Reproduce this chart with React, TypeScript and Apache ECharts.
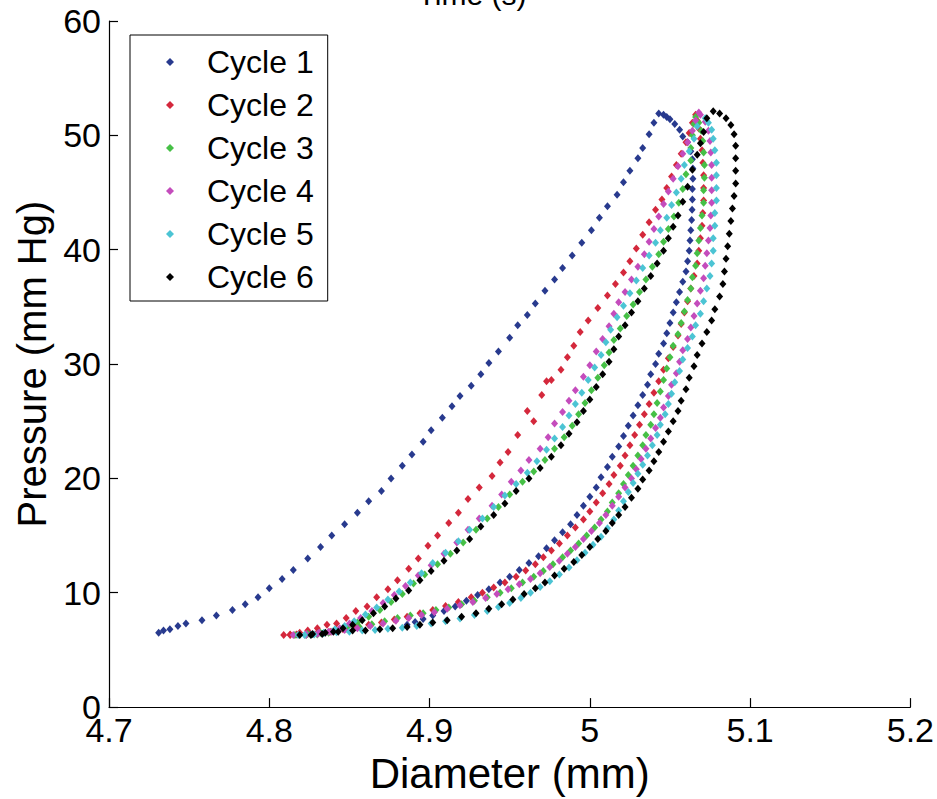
import React, { useEffect, useRef } from "react";
import * as echarts from "echarts";

const FONT = "'Liberation Sans', Arial, Helvetica, sans-serif";

const cycleNames = ["Cycle 1", "Cycle 2", "Cycle 3", "Cycle 4", "Cycle 5", "Cycle 6"];
const cycleColors = ["#283a8e", "#d4283c", "#46c046", "#c44cbc", "#4cc4d4", "#000000"];
const xTicks = [4.7, 4.8, 4.9, 5.0, 5.1, 5.2];
const yTicks = [0, 10, 20, 30, 40, 50, 60];

// [diameter (mm), pressure (mm Hg)]
const cycle1Up = [
  [4.731, 6.5], [4.734, 6.7], [4.738, 6.8], [4.743, 7.1], [4.748, 7.3], [4.758, 7.6], [4.767, 8.0],
  [4.777, 8.5], [4.785, 9.0], [4.793, 9.6], [4.8, 10.4], [4.808, 11.2], [4.815, 12.0], [4.824, 13.0],
  [4.832, 14.0], [4.839, 15.0], [4.847, 16.0], [4.855, 17.0], [4.862, 18.0], [4.87, 18.9], [4.876, 20.0],
  [4.883, 21.1], [4.889, 22.1], [4.896, 23.2], [4.901, 24.2], [4.908, 25.3], [4.914, 26.3], [4.919, 27.2],
  [4.926, 28.1], [4.932, 29.1], [4.937, 30.1], [4.943, 31.1], [4.95, 32.3], [4.955, 33.4], [4.961, 34.3],
  [4.966, 35.3], [4.972, 36.4], [4.978, 37.4], [4.983, 38.4], [4.989, 39.5], [4.995, 40.6], [5.001, 41.7],
  [5.006, 42.8], [5.011, 43.8], [5.017, 44.8], [5.021, 45.9], [5.025, 46.9], [5.03, 48.0], [5.033, 48.9],
  [5.037, 50.1], [5.04, 51.1], [5.043, 51.9],
];
const cycle1Down = [
  [5.046, 51.8], [5.048, 51.6], [5.05, 51.4], [5.053, 51.0], [5.056, 50.5], [5.058, 49.9], [5.061, 49.4],
  [5.063, 48.6], [5.064, 47.9], [5.0643, 47.1], [5.0643, 46.2], [5.064, 45.3], [5.064, 44.4], [5.0638, 43.5],
  [5.0635, 42.6], [5.063, 41.7], [5.0625, 40.8], [5.062, 39.9], [5.061, 39.0], [5.06, 38.1], [5.058, 37.2],
  [5.056, 36.3], [5.054, 35.4], [5.052, 34.5], [5.05, 33.6], [5.048, 32.7], [5.046, 31.8], [5.043, 30.9],
  [5.041, 30.0], [5.038, 29.1], [5.036, 28.2], [5.033, 27.3], [5.03, 26.4], [5.027, 25.5], [5.024, 24.6],
  [5.021, 23.7], [5.018, 22.8], [5.014, 21.9], [5.011, 21.0], [5.007, 20.1], [5.004, 19.2], [5.0, 18.4],
  [4.996, 17.6], [4.992, 16.8], [4.988, 16.0], [4.983, 15.3], [4.978, 14.6], [4.973, 13.9], [4.968, 13.2],
  [4.962, 12.6], [4.956, 12.0], [4.95, 11.4], [4.944, 10.9], [4.937, 10.3], [4.93, 9.8], [4.923, 9.3],
  [4.916, 8.8], [4.909, 8.4], [4.902, 8.0], [4.896, 7.7], [4.891, 7.45], [4.886, 7.2],
];

const cycle2Up = [
  [4.809, 6.3], [4.813, 6.3], [4.817, 6.35], [4.823, 6.4], [4.83, 6.5], [4.838, 6.6], [4.846, 6.8],
  [4.854, 7.0], [4.862, 7.2], [4.87, 7.4], [4.878, 7.65], [4.886, 7.9], [4.894, 8.2], [4.902, 8.5],
  [4.91, 8.85], [4.918, 9.2], [4.926, 9.6], [4.933, 10.0], [4.94, 10.45], [4.947, 10.9], [4.954, 11.4],
  [4.96, 11.95], [4.966, 12.5], [4.971, 13.1], [4.976, 13.7], [4.981, 14.3], [4.986, 15.0], [4.991, 15.7],
  [4.996, 16.4], [5.0, 17.1], [5.004, 17.9], [5.008, 18.7], [5.012, 19.5], [5.015, 20.3], [5.019, 21.1],
  [5.022, 22.0], [5.025, 22.9], [5.028, 23.8], [5.031, 24.7], [5.034, 25.6], [5.037, 26.5], [5.04, 27.5],
  [5.043, 28.5], [5.046, 29.5], [5.049, 30.5], [5.052, 31.5], [5.055, 32.5], [5.057, 33.5], [5.059, 34.5],
  [5.061, 35.5], [5.063, 36.6], [5.065, 37.7], [5.067, 38.8], [5.068, 39.9], [5.069, 41.0], [5.07, 42.1],
  [5.0705, 43.2], [5.071, 44.3], [5.071, 45.4], [5.071, 46.5], [5.0705, 47.6], [5.07, 48.7], [5.069, 49.7],
  [5.068, 50.6], [5.067, 51.3], [5.066, 51.8],
];
const cycle2Down = [
  [5.064, 51.1], [5.062, 50.2], [5.06, 49.4], [5.057, 48.4], [5.054, 47.4], [5.051, 46.4], [5.048, 45.4],
  [5.045, 44.4], [5.041, 43.5], [5.037, 42.4], [5.033, 41.3], [5.029, 40.1], [5.025, 39.0], [5.021, 38.0],
  [5.016, 37.0], [5.011, 36.0], [5.005, 34.9], [4.999, 33.8], [4.994, 32.8], [4.99, 31.6], [4.986, 30.6],
  [4.982, 29.5], [4.976, 28.6], [4.973, 28.5], [4.97, 27.3], [4.961, 25.9], [4.965, 25.0], [4.955, 23.8],
  [4.949, 22.3], [4.944, 21.4], [4.939, 20.2], [4.931, 19.2], [4.924, 18.2], [4.918, 17.0], [4.912, 16.1],
  [4.905, 15.0], [4.899, 14.1], [4.893, 13.0], [4.887, 12.1], [4.88, 11.1], [4.874, 10.3], [4.867, 9.6],
  [4.861, 8.8], [4.854, 8.4], [4.848, 7.8], [4.842, 7.3], [4.836, 7.2], [4.83, 6.9], [4.824, 6.7],
  [4.819, 6.5], [4.813, 6.35],
];

const cycle3Up = [
  [4.816, 6.3], [4.824, 6.4], [4.832, 6.5], [4.84, 6.65], [4.848, 6.85], [4.856, 7.05], [4.864, 7.25],
  [4.872, 7.5], [4.88, 7.8], [4.888, 8.0], [4.896, 8.2], [4.904, 8.5], [4.912, 8.7], [4.92, 9.0],
  [4.928, 9.3], [4.936, 9.6], [4.944, 10.0], [4.951, 10.4], [4.958, 10.9], [4.965, 11.4], [4.971, 11.9],
  [4.977, 12.5], [4.983, 13.1], [4.988, 13.7], [4.993, 14.3], [4.998, 15.0], [5.003, 15.7], [5.007, 16.4],
  [5.011, 17.1], [5.014, 17.9], [5.018, 18.7], [5.021, 19.5], [5.024, 20.3], [5.027, 21.1], [5.03, 22.0],
  [5.033, 22.9], [5.035, 23.8], [5.038, 24.7], [5.04, 25.6], [5.042, 26.6], [5.044, 27.6], [5.046, 28.6],
  [5.048, 29.6], [5.05, 30.6], [5.052, 31.6], [5.055, 32.6], [5.057, 33.6], [5.059, 34.6], [5.061, 35.6],
  [5.063, 36.6], [5.064, 37.6], [5.066, 38.6], [5.067, 39.7], [5.068, 40.8], [5.069, 41.9], [5.07, 43.0],
  [5.071, 44.1], [5.071, 45.2], [5.0715, 46.3], [5.0715, 47.4], [5.071, 48.5], [5.0705, 49.5],
  [5.0695, 50.4], [5.068, 51.1], [5.066, 51.6],
];
const cycle3Down = [
  [5.065, 51.0], [5.064, 50.0], [5.063, 48.9], [5.063, 47.8], [5.06, 46.6], [5.058, 45.3], [5.0555, 44.1],
  [5.0525, 42.9], [5.049, 41.8], [5.046, 40.7], [5.043, 39.6], [5.039, 38.5], [5.035, 37.4], [5.031, 36.3],
  [5.027, 35.2], [5.023, 34.2], [5.019, 33.1], [5.015, 32.1], [5.012, 31.0], [5.009, 29.9], [5.005, 28.8],
  [5.001, 27.7], [4.997, 26.6], [4.993, 25.6], [4.989, 24.6], [4.984, 23.6], [4.978, 22.6], [4.972, 21.6],
  [4.965, 20.6], [4.958, 19.7], [4.95, 18.6], [4.943, 17.5], [4.936, 16.5], [4.929, 15.5], [4.921, 14.4],
  [4.913, 13.4], [4.905, 12.5], [4.897, 11.6], [4.89, 10.8], [4.883, 9.9], [4.876, 9.2], [4.869, 8.5],
  [4.862, 7.9], [4.855, 7.4], [4.849, 7.0], [4.843, 6.7], [4.837, 6.5], [4.83, 6.35], [4.823, 6.3],
];

const cycle4Up = [
  [4.815, 6.3], [4.823, 6.4], [4.831, 6.5], [4.839, 6.6], [4.847, 6.75], [4.855, 6.9], [4.863, 7.1],
  [4.871, 7.3], [4.879, 7.55], [4.887, 7.8], [4.895, 8.05], [4.903, 8.3], [4.911, 8.6], [4.919, 8.9],
  [4.927, 9.2], [4.935, 9.55], [4.942, 9.9], [4.949, 10.3], [4.956, 10.75], [4.963, 11.2], [4.969, 11.7],
  [4.975, 12.25], [4.981, 12.8], [4.986, 13.4], [4.991, 14.0], [4.996, 14.7], [5.001, 15.4], [5.006, 16.1],
  [5.01, 16.8], [5.014, 17.6], [5.018, 18.4], [5.022, 19.2], [5.026, 20.0], [5.029, 20.8], [5.032, 21.7],
  [5.035, 22.6], [5.038, 23.5], [5.041, 24.4], [5.044, 25.3], [5.046, 26.2], [5.049, 27.2], [5.051, 28.2],
  [5.054, 29.2], [5.056, 30.2], [5.058, 31.2], [5.061, 32.2], [5.063, 33.2], [5.065, 34.2], [5.067, 35.3],
  [5.069, 36.4], [5.071, 37.5], [5.072, 38.6], [5.073, 39.7], [5.074, 40.8], [5.075, 41.9], [5.0755, 43.0],
  [5.076, 44.1], [5.076, 45.2], [5.076, 46.3], [5.076, 47.4], [5.0755, 48.5], [5.075, 49.5], [5.074, 50.4],
  [5.072, 51.2], [5.069, 51.8], [5.068, 52.0],
];
const cycle4Down = [
  [5.066, 51.3], [5.064, 50.4], [5.061, 49.4], [5.058, 48.4], [5.055, 47.3], [5.052, 46.2], [5.049, 45.1],
  [5.046, 44.0], [5.043, 42.9], [5.04, 41.8], [5.037, 40.7], [5.034, 39.6], [5.03, 38.5], [5.026, 37.4],
  [5.022, 36.3], [5.018, 35.4], [5.015, 34.4], [5.012, 33.3], [5.008, 32.2], [5.004, 31.1], [5.0, 29.9],
  [4.996, 28.9], [4.991, 27.7], [4.987, 26.8], [4.983, 25.8], [4.978, 24.8], [4.974, 23.6], [4.969, 22.6],
  [4.962, 21.6], [4.957, 20.7], [4.951, 19.7], [4.945, 18.6], [4.939, 17.6], [4.931, 16.5], [4.924, 15.5],
  [4.917, 14.4], [4.909, 13.4], [4.901, 12.4], [4.893, 11.5], [4.885, 10.6], [4.878, 9.8], [4.871, 9.1],
  [4.864, 8.4], [4.857, 7.8], [4.85, 7.3], [4.844, 6.9], [4.837, 6.6], [4.83, 6.4], [4.823, 6.3],
];

const cycle5Up = [
  [4.818, 6.3], [4.826, 6.35], [4.834, 6.45], [4.842, 6.55], [4.85, 6.6], [4.858, 6.7], [4.866, 6.75],
  [4.874, 6.85], [4.883, 6.95], [4.892, 7.1], [4.901, 7.3], [4.91, 7.5], [4.919, 7.75], [4.928, 8.05],
  [4.936, 8.4], [4.943, 8.75], [4.95, 9.1], [4.957, 9.55], [4.963, 10.0], [4.969, 10.5], [4.975, 11.0],
  [4.981, 11.6], [4.987, 12.2], [4.992, 12.85], [4.997, 13.5], [5.002, 14.2], [5.007, 14.9], [5.011, 15.65],
  [5.015, 16.4], [5.018, 17.2], [5.021, 18.0], [5.024, 18.8], [5.027, 19.6], [5.03, 20.4], [5.033, 21.2],
  [5.036, 22.0], [5.039, 22.9], [5.042, 23.8], [5.044, 24.7], [5.047, 25.6], [5.049, 26.5], [5.051, 27.4],
  [5.053, 28.4], [5.056, 29.4], [5.058, 30.4], [5.061, 31.4], [5.064, 32.4], [5.066, 33.4], [5.069, 34.4],
  [5.071, 35.5], [5.073, 36.6], [5.075, 37.7], [5.076, 38.8], [5.077, 39.9], [5.077, 41.0], [5.078, 42.1],
  [5.078, 43.2], [5.079, 44.3], [5.079, 45.4], [5.079, 46.5], [5.079, 47.6], [5.078, 48.7], [5.077, 49.7],
  [5.076, 50.5], [5.074, 51.1], [5.072, 51.5],
];
const cycle5Down = [
  [5.067, 50.8], [5.065, 49.7], [5.062, 48.6], [5.059, 47.4], [5.057, 46.2], [5.054, 45.0], [5.051, 43.9],
  [5.048, 42.8], [5.044, 41.7], [5.041, 40.6], [5.037, 39.5], [5.033, 38.4], [5.029, 37.3], [5.025, 36.2],
  [5.021, 35.1], [5.017, 34.1], [5.013, 33.0], [5.01, 31.9], [5.007, 30.8], [5.003, 29.7], [4.999, 28.6],
  [4.995, 27.5], [4.991, 26.5], [4.987, 25.5], [4.983, 24.5], [4.978, 23.5], [4.973, 22.5], [4.967, 21.5],
  [4.961, 20.5], [4.954, 19.5], [4.947, 18.5], [4.94, 17.5], [4.933, 16.5], [4.925, 15.5], [4.918, 14.5],
  [4.91, 13.5], [4.902, 12.6], [4.895, 11.7], [4.888, 10.9], [4.881, 10.1], [4.874, 9.4], [4.867, 8.7],
  [4.86, 8.1], [4.853, 7.5], [4.847, 7.1], [4.841, 6.8], [4.834, 6.5], [4.828, 6.35], [4.822, 6.3],
];

const cycle6Up = [
  [4.819, 6.3], [4.827, 6.4], [4.835, 6.5], [4.843, 6.6], [4.852, 6.7], [4.86, 6.7], [4.869, 6.8],
  [4.877, 6.9], [4.886, 7.0], [4.894, 7.2], [4.902, 7.4], [4.911, 7.6], [4.92, 7.9], [4.929, 8.2],
  [4.937, 8.6], [4.945, 9.0], [4.952, 9.4], [4.959, 9.9], [4.966, 10.4], [4.972, 10.9], [4.978, 11.5],
  [4.984, 12.1], [4.99, 12.7], [4.995, 13.3], [5.0, 14.0], [5.005, 14.7], [5.01, 15.4], [5.014, 16.1],
  [5.018, 16.8], [5.022, 17.5], [5.026, 18.3], [5.03, 19.1], [5.033, 19.9], [5.037, 20.7], [5.04, 21.5],
  [5.043, 22.3], [5.046, 23.2], [5.049, 24.1], [5.052, 25.0], [5.055, 25.9], [5.057, 26.8], [5.06, 27.8],
  [5.062, 28.8], [5.065, 29.8], [5.067, 30.8], [5.07, 31.8], [5.073, 32.8], [5.076, 33.8], [5.078, 34.8],
  [5.081, 35.9], [5.083, 37.0], [5.084, 38.1], [5.085, 39.2], [5.086, 40.3], [5.087, 41.4], [5.088, 42.5],
  [5.089, 43.6], [5.09, 44.7], [5.091, 45.8], [5.091, 46.9], [5.091, 48.0], [5.091, 49.1], [5.09, 50.1],
  [5.088, 50.9], [5.085, 51.5], [5.081, 51.9], [5.077, 52.1],
];
const cycle6Down = [
  [5.073, 51.5], [5.071, 50.3], [5.069, 49.3], [5.067, 48.3], [5.064, 47.0], [5.061, 45.5], [5.058, 44.2],
  [5.055, 43.0], [5.052, 42.0], [5.049, 41.0], [5.046, 39.9], [5.042, 38.8], [5.038, 37.7], [5.034, 36.6],
  [5.03, 35.5], [5.026, 34.5], [5.022, 33.4], [5.018, 32.4], [5.015, 31.3], [5.012, 30.2], [5.008, 29.1],
  [5.004, 28.0], [5.0, 26.9], [4.996, 25.9], [4.992, 24.9], [4.987, 23.9], [4.982, 22.9], [4.976, 21.9],
  [4.969, 20.9], [4.962, 20.0], [4.954, 18.9], [4.947, 17.8], [4.94, 16.8], [4.932, 15.8], [4.925, 14.7],
  [4.917, 13.7], [4.909, 12.8], [4.901, 11.9], [4.894, 11.1], [4.887, 10.2], [4.879, 9.5], [4.872, 8.8],
  [4.865, 8.2], [4.858, 7.6], [4.852, 7.2], [4.846, 6.9], [4.84, 6.6], [4.833, 6.4], [4.826, 6.3],
];

const cycles = [
  cycle1Up.concat(cycle1Down),
  cycle2Up.concat(cycle2Down),
  cycle3Up.concat(cycle3Down),
  cycle4Up.concat(cycle4Down),
  cycle5Up.concat(cycle5Down),
  cycle6Up.concat(cycle6Down),
];

export default function App() {
  const ref = useRef<HTMLDivElement>(null);

  useEffect(() => {
    if (!ref.current) return;
    const chart = echarts.init(ref.current, null, { renderer: "svg" });
    const xStep = Math.round((xTicks[1] - xTicks[0]) * 10) / 10;
    const yStep = yTicks[1] - yTicks[0];
    chart.setOption({
      animation: false,
      backgroundColor: "#ffffff",
      grid: { left: 109, right: 26, top: 21, bottom: 88, containLabel: false },
      graphic: [
        {
          type: "text",
          x: 472,
          y: 9,
          silent: true,
          style: {
            text: "Time (s)",
            fontSize: 30,
            fontFamily: FONT,
            fill: "#000",
            textAlign: "center",
            textVerticalAlign: "bottom",
            align: "center",
            verticalAlign: "bottom",
          },
        },
      ],
      legend: {
        show: true,
        orient: "vertical",
        left: 130,
        top: 35,
        backgroundColor: "#ffffff",
        borderColor: "#000000",
        borderWidth: 1,
        borderRadius: 0,
        padding: [11, 14, 8, 36],
        itemGap: 11,
        itemWidth: 8,
        itemHeight: 8,
        icon: "diamond",
        data: cycleNames,
        textStyle: {
          fontSize: 32,
          lineHeight: 32,
          color: "#000",
          fontFamily: FONT,
          padding: [0, 0, 0, 28],
        },
      },
      xAxis: {
        type: "value",
        min: xTicks[0],
        max: xTicks[xTicks.length - 1],
        interval: xStep,
        name: "Diameter (mm)",
        nameLocation: "middle",
        nameGap: 40,
        nameTextStyle: { fontSize: 42, color: "#000", fontFamily: FONT },
        axisLine: { show: true, onZero: false, lineStyle: { color: "#000", width: 1.2 } },
        axisTick: { show: true, inside: true, length: 9, lineStyle: { color: "#000", width: 1.2 } },
        axisLabel: {
          color: "#000",
          fontSize: 34,
          fontFamily: FONT,
          margin: 6,
          formatter: (v: number) => String(Math.round(v * 10) / 10),
        },
        splitLine: { show: false },
      },
      yAxis: {
        type: "value",
        min: yTicks[0],
        max: yTicks[yTicks.length - 1],
        interval: yStep,
        name: "Pressure (mm Hg)",
        nameLocation: "middle",
        nameGap: 52,
        nameTextStyle: { fontSize: 40, color: "#000", fontFamily: FONT },
        axisLine: { show: true, onZero: false, lineStyle: { color: "#000", width: 1.2 } },
        axisTick: { show: true, inside: true, length: 9, lineStyle: { color: "#000", width: 1.2 } },
        axisLabel: { color: "#000", fontSize: 34, fontFamily: FONT, margin: 8 },
        splitLine: { show: false },
      },
      series: cycles.map((data, i) => ({
        name: cycleNames[i],
        type: "scatter",
        symbol: "diamond",
        symbolSize: [7, 8],
        silent: true,
        itemStyle: { color: cycleColors[i], opacity: 1 },
        emphasis: { disabled: true },
        data,
      })),
    });
    return () => chart.dispose();
  }, []);

  return (
    <div
      ref={ref}
      style={{ position: "absolute", left: 0, top: 0, width: 937, height: 799, background: "#fff" }}
    />
  );
}
